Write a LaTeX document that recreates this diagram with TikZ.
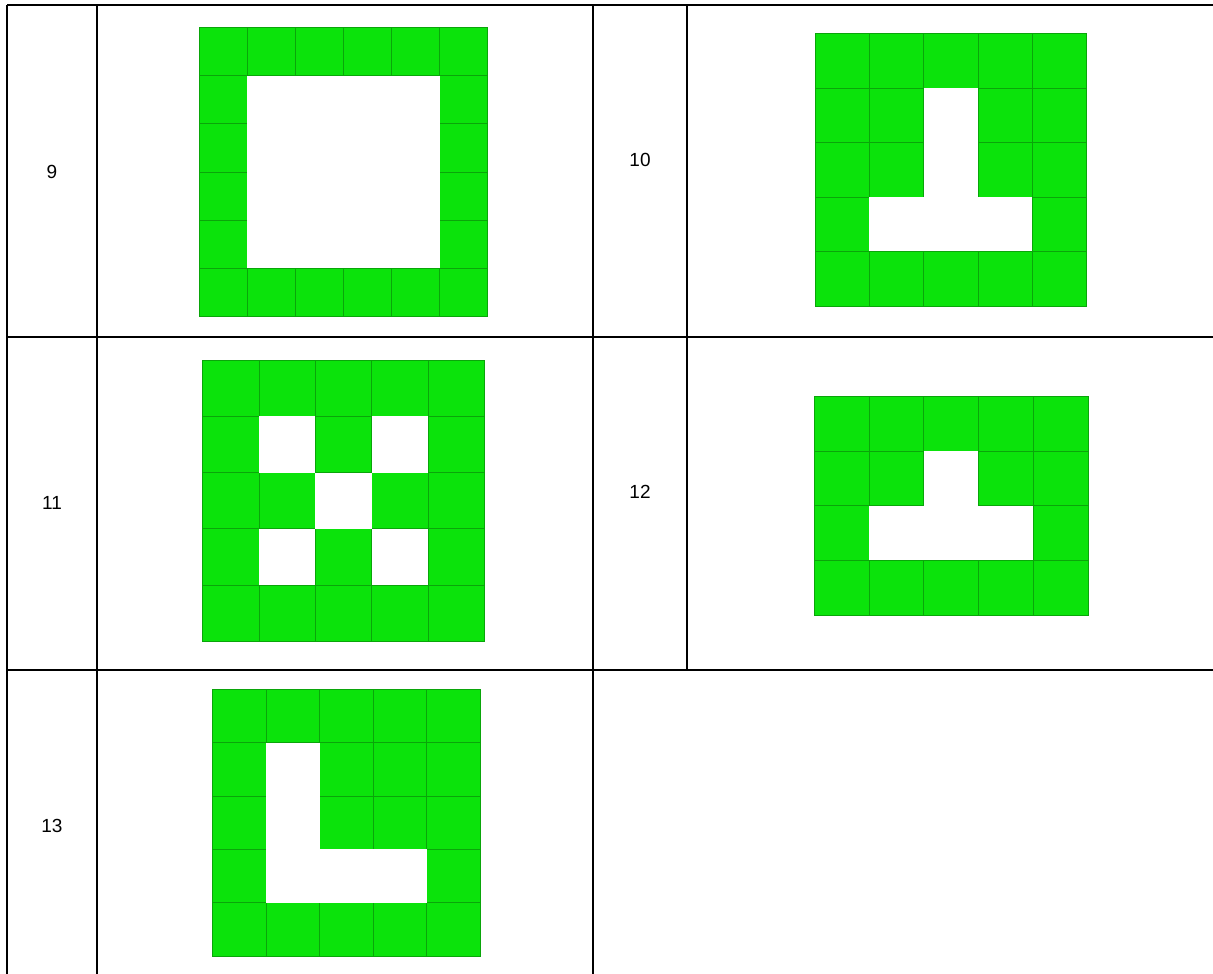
\documentclass[tikz,border=0pt]{standalone}
\usepackage{fontspec}
\setmainfont{Liberation Sans}
\definecolor{grn}{HTML}{0BE30B}
\definecolor{grnline}{HTML}{0AA50A}
\tikzset{
  cell/.style={fill=grn, draw=grnline, line width=0.6pt},
  rule/.style={draw=black, line width=2.5pt},
  lab/.style={font=\fontsize{19}{22}\selectfont, inner sep=0pt}
}
\newcommand\greengrid[6]{%
  \foreach \i in {1,...,#5}{\foreach \j in {1,...,#6}{
    \path[cell] ({#1+(\i-1)*#3},{#2+(\j-1)*#4}) rectangle ++(#3,#4);}}}
\newcommand\hole[8]{\fill[white] ({#1+#5*#3},{#2+#6*#4}) rectangle ++({#7*#3},{#8*#4});}
\begin{document}
\begin{tikzpicture}[x=1pt,y=-1pt]
\useasboundingbox[fill=white] (0,0) rectangle (1213,974);
% table rules
\draw[rule] (7,5) -- (1213,5);
\draw[rule] (7,337) -- (1213,337);
\draw[rule] (7,670) -- (1213,670);
\draw[rule] (7,5) -- (7,974);
\draw[rule] (97,5) -- (97,974);
\draw[rule] (593,5) -- (593,974);
\draw[rule] (687,5) -- (687,670);
% labels
\node[lab] (n9) at (52,172) {9};
\node[lab] (n10) at (640,160) {10};
\node[lab] (n11) at (52,503) {11};
\node[lab] (n12) at (640,492) {12};
\node[lab] (n13) at (52,826) {13};
% grid 9
\greengrid{199.3}{27.3}{48.07}{48.23}{6}{6}
\hole{199.3}{27.3}{48.07}{48.23}{1}{1}{4}{4}
% grid 10
\greengrid{815}{33.3}{54.33}{54.53}{5}{5}
\hole{815}{33.3}{54.33}{54.53}{2}{1}{1}{2}
\hole{815}{33.3}{54.33}{54.53}{1}{3}{3}{1}
% grid 11
\greengrid{202.7}{360}{56.3}{56.26}{5}{5}
\hole{202.7}{360}{56.3}{56.26}{1}{1}{1}{1}
\hole{202.7}{360}{56.3}{56.26}{3}{1}{1}{1}
\hole{202.7}{360}{56.3}{56.26}{2}{2}{1}{1}
\hole{202.7}{360}{56.3}{56.26}{1}{3}{1}{1}
\hole{202.7}{360}{56.3}{56.26}{3}{3}{1}{1}
% grid 12
\greengrid{814.3}{396}{54.7}{54.8}{5}{4}
\hole{814.3}{396}{54.7}{54.8}{2}{1}{1}{1}
\hole{814.3}{396}{54.7}{54.8}{1}{2}{3}{1}
% grid 13
\greengrid{212.7}{689.3}{53.46}{53.34}{5}{5}
\hole{212.7}{689.3}{53.46}{53.34}{1}{1}{1}{2}
\hole{212.7}{689.3}{53.46}{53.34}{1}{3}{3}{1}
\end{tikzpicture}
\end{document}
